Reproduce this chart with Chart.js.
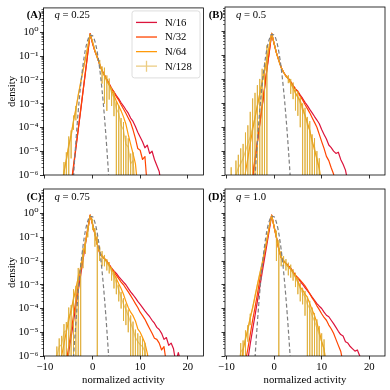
<!DOCTYPE html>
<html>
<head>
<meta charset="utf-8">
<script src="https://cdn.jsdelivr.net/npm/chart.js@4.4.1/dist/chart.umd.min.js"></script>
<style>
  body { margin: 0; background: #fff; }
  #fig { position: relative; width: 390px; height: 390px; }
  #fig canvas { position: absolute; left: 0; top: 0; }
</style>
</head>
<body>
<div id="fig">
  <canvas id="panelA" width="390" height="390"></canvas>
  <canvas id="panelB" width="390" height="390"></canvas>
  <canvas id="panelC" width="390" height="390"></canvas>
  <canvas id="panelD" width="390" height="390"></canvas>
</div>
<script>
// ---- data: [x, density] pairs; N/128 rows carry a third value = error
const seriesLabels = ['N/16', 'N/32', 'N/64', 'N/128'];
const qValues = ['0.25', '0.5', '0.75', '1.0'];
const panelTags = ['(A)', '(B)', '(C)', '(D)'];

const xTicks = [-10, 0, 10, 20];
const xTickLabels = ['\u221210', '0', '10', '20'];
const yTicks = [1e-6, 1e-5, 1e-4, 1e-3, 1e-2, 1e-1, 1];
const yTickLabels = ['10\u207b\u2076', '10\u207b\u2075', '10\u207b\u2074', '10\u207b\u00b3', '10\u207b\u00b2', '10\u207b\u00b9', '10\u2070'];

// dashed reference curve (same in every panel)
const gauss = [[-4.5,1e-8],[-4,8e-7],[-3.5,2.5e-5],[-3,5e-4],[-2.5,6e-3],[-2,0.043],[-1.5,0.19],[-1,0.48],[-0.5,0.77],[0,0.73],[0.5,0.42],[1,0.145],[1.5,0.03],[2,3.7e-3],[2.5,2.8e-4],[3,1.3e-5],[3.5,3.6e-7],[4,3e-9]];

// (A) q = 0.25
const a16 = [[-4.5,3e-7],[-4,2e-6],[-3.5,1.3e-5],[-3,8e-5],[-2.5,5e-4],[-2,3.2e-3],[-1.5,0.02],[-1,0.13],[-0.5,0.9],[0,0.35],[0.5,0.16],[1,0.09],[1.5,0.045],[2,0.025],[2.5,0.016],[3,0.0105],[3.5,7e-3],[4,4.5e-3],[4.5,3.2e-3],[5,2.2e-3],[5.5,1.6e-3],[6,1.1e-3],[6.5,8e-4],[7,5.6e-4],[7.5,4e-4],[8,2.5e-4],[8.5,1.8e-4],[9,1.1e-4],[9.5,6.3e-5],[10,4e-5],[10.5,2.5e-5],[11,1.4e-5],[11.5,1.8e-5],[12,8e-6],[12.5,1e-5],[13,4.5e-6],[13.5,2.5e-6],[14,1.4e-6],[14.5,3e-7]];
const a32 = [[-4.5,4e-7],[-4,2.5e-6],[-3.5,1.5e-5],[-3,9e-5],[-2.5,5.5e-4],[-2,3.5e-3],[-1.5,0.022],[-1,0.14],[-0.5,0.9],[0,0.35],[0.5,0.16],[1,0.09],[1.5,0.045],[2,0.025],[2.5,0.016],[3,0.0105],[3.5,6.8e-3],[4,4.3e-3],[4.5,3e-3],[5,2e-3],[5.5,1.4e-3],[6,9e-4],[6.5,6e-4],[7,4e-4],[7.5,2.5e-4],[8,1.6e-4],[8.5,8e-5],[9,3.5e-5],[9.5,1.3e-5],[10,1.1e-5],[10.5,4.5e-6],[11,6e-6],[11.5,3e-7]];
const a64 = [[-6.5,3e-7],[-6,1.3e-6],[-5.5,4.5e-6],[-5,1.6e-5],[-4.5,5e-5],[-4,1.8e-4],[-3.5,6.3e-4],[-3,2.2e-3],[-2.5,8e-3],[-2,0.025],[-1.5,0.08],[-1,0.25],[-0.5,0.85],[0,0.4],[0.5,0.17],[1,0.09],[1.5,0.045],[2,0.024],[2.5,0.015],[3,9.5e-3],[3.5,6e-3],[4,3.6e-3],[4.5,2.2e-3],[5,1.3e-3],[5.5,8e-4],[6,5e-4],[6.5,2.8e-4],[7,1.4e-4],[7.5,5e-5],[8,2e-5],[8.5,8e-6],[9,3e-6],[9.5,3e-7]];
const a128 = [[-6.5,3e-7],[-6,1.5e-6,2e-6],[-5.5,4e-6,5e-6],[-5,2e-5,2.2e-5],[-4.5,4e-5,3.5e-5],[-4,2e-4,1.2e-4],[-3.5,5e-4,3e-4],[-3,2.5e-3],[-2.5,7e-3],[-2,0.028],[-1.5,0.075],[-1,0.26],[-0.5,0.8],[0,0.42],[0.5,0.18],[1,0.08],[1.5,0.05,0.02],[2,0.022,0.015],[2.5,0.017,0.016],[3,8e-3,7.5e-3],[3.5,6.5e-3,5e-3],[4,2.8e-3,2e-3],[4.5,1.8e-3,1.5e-3],[5,6e-4,6e-4],[5.5,4e-4,4.5e-4],[6,1.2e-4,1.3e-4],[6.5,8e-5,9e-5],[7,2e-5,2.5e-5],[7.5,1.5e-5,2e-5],[8,3e-6,5e-6],[8.5,4e-6,5e-6],[9,3e-7]];

// (B) q = 0.5
const b16 = [[-5,3e-7],[-4.5,7e-7],[-4,4e-6],[-3.5,2.2e-5],[-3,1.3e-4],[-2.5,7e-4],[-2,4e-3],[-1.5,0.025],[-1,0.14],[-0.5,0.85],[0,0.32],[0.5,0.13],[1,0.063],[1.5,0.032],[2,0.02],[2.5,0.014],[3,0.011],[3.5,8e-3],[4,5.6e-3],[4.5,4e-3],[5,3.2e-3],[5.5,2.2e-3],[6,1.6e-3],[6.5,1.1e-3],[7,8e-4],[7.5,5.6e-4],[8,4e-4],[8.5,2.8e-4],[9,2e-4],[9.5,1.4e-4],[10,8e-5],[10.5,5e-5],[11,3.2e-5],[11.5,1.8e-5],[12,1.4e-5],[12.5,1e-5],[13,8e-6],[13.5,9e-6],[14,4.5e-6],[14.5,2.8e-6],[15,1.6e-6],[15.5,5e-7]];
const b32 = [[-5,3e-7],[-4.5,9e-7],[-4,5e-6],[-3.5,2.5e-5],[-3,1.4e-4],[-2.5,8e-4],[-2,4.5e-3],[-1.5,0.028],[-1,0.15],[-0.5,0.85],[0,0.32],[0.5,0.13],[1,0.063],[1.5,0.032],[2,0.02],[2.5,0.014],[3,0.011],[3.5,8e-3],[4,5.5e-3],[4.5,3.9e-3],[5,3e-3],[5.5,2e-3],[6,1.4e-3],[6.5,9e-4],[7,6e-4],[7.5,4e-4],[8,2.5e-4],[8.5,1.6e-4],[9,1e-4],[9.5,5e-5],[10,2.5e-5],[10.5,1.3e-5],[11,6e-6],[11.5,4e-6],[12,2e-6],[12.5,1.1e-6],[13,3e-7]];
const b64 = [[-6.5,3e-7],[-6,1.3e-6],[-5.5,5e-6],[-5,2e-5],[-4.5,8e-5],[-4,2.5e-4],[-3.5,8e-4],[-3,2.5e-3],[-2.5,8e-3],[-2,0.022],[-1.5,0.07],[-1,0.25],[-0.5,0.85],[0,0.33],[0.5,0.13],[1,0.063],[1.5,0.032],[2,0.02],[2.5,0.014],[3,0.0105],[3.5,7e-3],[4,4.5e-3],[4.5,2.8e-3],[5,1.8e-3],[5.5,1.3e-3],[6,6.3e-4],[6.5,3.2e-4],[7,1.6e-4],[7.5,7e-5],[8,2.8e-5],[8.5,1.1e-5],[9,5e-6],[9.5,1.8e-6],[10,3e-7]];
const b128 = [[-9,6e-7,1.5e-6],[-8,1e-6,3e-6],[-7.5,2e-6,5e-6],[-7,3e-6,1e-5],[-6.5,5e-6,1.5e-5],[-6,1e-5,5e-5],[-5.5,2e-5,1e-4],[-5,4e-5,4e-4],[-4.5,1e-4,1.5e-3],[-4,2.5e-4,2.5e-3],[-3.5,8e-4,5e-3],[-3,2.5e-3,8e-3],[-2.5,8e-3,0.02],[-2,0.022,0.03],[-1.5,0.07,0.2],[-1,0.25],[-0.5,0.8],[0,0.33],[0.5,0.13],[1,0.06],[1.5,0.03],[2,0.02],[2.5,0.013],[3,0.011,4e-3],[3.5,6.5e-3,4e-3],[4,4.5e-3,3e-3],[4.5,2.5e-3,2e-3],[5,1.8e-3,1.5e-3],[5.5,1e-3,9e-4],[6,5e-4,5e-4],[6.5,3e-4,3.5e-4],[7,1.2e-4,1.5e-4],[7.5,8e-5,1e-4],[8,2e-5,3e-5],[8.5,1.5e-5,2e-5],[9,4e-6,6e-6],[9.5,2e-6,3e-6],[10,3e-7]];

// (C) q = 0.75
const c16 = [[-5.5,3e-7],[-5,1.4e-6],[-4.5,6e-6],[-4,2.8e-5],[-3.5,1.3e-4],[-3,5.6e-4],[-2.5,2.5e-3],[-2,0.011],[-1.5,0.05],[-1,0.2],[-0.5,0.85],[0,0.35],[0.5,0.14],[1,0.05],[1.5,0.022],[2,0.016],[2.5,0.0125],[3,0.01],[3.5,7e-3],[4,5e-3],[4.5,3.8e-3],[5,3e-3],[5.5,2.2e-3],[6,1.7e-3],[6.5,1.3e-3],[7,1e-3],[7.5,7e-4],[8,5e-4],[8.5,3.8e-4],[9,2.8e-4],[9.5,2e-4],[10,1.5e-4],[10.5,1.1e-4],[11,8e-5],[11.5,6e-5],[12,4.5e-5],[12.5,3.2e-5],[13,2.4e-5],[13.5,1.6e-5],[14,1.3e-5],[14.5,9e-6],[15,5e-6],[15.5,6e-6],[16,2.8e-6],[16.5,3.5e-6],[17,2e-6],[17.5,5e-7],[18,1.4e-6],[18.5,6e-7]];
const c32 = [[-6,3e-7],[-5.5,6e-7],[-5,2.5e-6],[-4.5,1.1e-5],[-4,5e-5],[-3.5,2.2e-4],[-3,1e-3],[-2.5,4e-3],[-2,0.016],[-1.5,0.063],[-1,0.25],[-0.5,0.85],[0,0.35],[0.5,0.14],[1,0.05],[1.5,0.022],[2,0.016],[2.5,0.0125],[3,0.01],[3.5,7e-3],[4,4.8e-3],[4.5,3.5e-3],[5,2.5e-3],[5.5,1.8e-3],[6,1.3e-3],[6.5,1e-3],[7,7e-4],[7.5,5e-4],[8,3.5e-4],[8.5,2.4e-4],[9,1.6e-4],[9.5,1.1e-4],[10,7e-5],[10.5,5e-5],[11,3.5e-5],[11.5,2.2e-5],[12,1.4e-5],[12.5,9e-6],[13,5.6e-6],[13.5,5e-6],[14,3.5e-6],[14.5,1.8e-6],[15,2.5e-6],[15.5,5e-7]];
const c64 = [[-7,3e-7],[-6.5,1e-6],[-6,3.2e-6],[-5.5,1.1e-5],[-5,3.2e-5],[-4.5,9e-5],[-4,2.5e-4],[-3.5,7e-4],[-3,2e-3],[-2.5,5.6e-3],[-2,0.016],[-1.5,0.06],[-1,0.2],[-0.5,0.85],[0,0.35],[0.5,0.14],[1,0.05],[1.5,0.022],[2,0.016],[2.5,0.0125],[3,9.5e-3],[3.5,6.5e-3],[4,4.5e-3],[4.5,3e-3],[5,1.8e-3],[5.5,1.1e-3],[6,7e-4],[6.5,4e-4],[7,2e-4],[7.5,1.1e-4],[8,7e-5],[8.5,5e-5],[9,3e-5],[9.5,1.4e-5],[10,1e-5],[10.5,6e-6],[11,3.5e-6],[11.5,1.3e-6],[12,3e-7]];
const c128 = [[-8,3e-7],[-7.5,1e-6,1.5e-6],[-7,2.5e-6,3e-6],[-6.5,3e-6,4e-6],[-6,1e-5,1.2e-5],[-5.5,1.2e-5,1.5e-5],[-5,5e-5,6e-5],[-4.5,6e-5,8e-5],[-4,3e-4,3.5e-4],[-3.5,4e-4,5e-4],[-3,2.5e-3,2.6e-3],[-2.5,4e-3,4.5e-3],[-2,0.02,0.015],[-1.5,0.05,0.03],[-1,0.2,0.1],[-0.5,0.8],[0,0.4,0.2],[0.5,0.14,0.1],[1,0.05,0.09],[1.5,0.025,0.015],[2,0.016,0.01],[2.5,0.012,6e-3],[3,8e-3,4e-3],[3.5,6e-3,3e-3],[4,3.5e-3,2e-3],[4.5,2.2e-3,1.5e-3],[5,1.2e-3,8e-4],[5.5,6e-4,4e-4],[6,3e-4,2e-4],[6.5,1.5e-4,1.2e-4],[7,9e-5,7e-5],[7.5,5e-5,4e-5],[8,2.5e-5,2.6e-5],[8.5,1.3e-5,1.5e-5],[9,6e-6,7e-6],[9.5,4e-6,5e-6],[10,3e-6,4e-6],[10.5,2.5e-6,3e-6],[11,1.5e-6,2e-6],[11.5,3e-7]];

// (D) q = 1.0
const d16 = [[-6,3e-7],[-5.5,7e-7],[-5,3.2e-6],[-4.5,1.3e-5],[-4,5e-5],[-3.5,2e-4],[-3,8e-4],[-2.5,3.2e-3],[-2,0.0125],[-1.5,0.05],[-1,0.2],[-0.5,0.85],[0,0.28],[0.5,0.1],[1,0.032],[1.5,0.014],[2,0.01],[2.5,8e-3],[3,6.3e-3],[3.5,5e-3],[4,3.5e-3],[4.5,2.5e-3],[5,1.9e-3],[5.5,1.4e-3],[6,1.05e-3],[6.5,7.5e-4],[7,5.6e-4],[7.5,4.2e-4],[8,3e-4],[8.5,2.2e-4],[9,1.6e-4],[9.5,1.25e-4],[10,1e-4],[10.5,7e-5],[11,5.2e-5],[11.5,4.5e-5],[12,3.2e-5],[12.5,2.3e-5],[13,1.6e-5],[13.5,1.1e-5],[14,8e-6],[14.5,7e-6],[15,4e-6],[15.5,3.5e-6],[16,2.5e-6],[16.5,2e-6],[17,1.6e-6],[17.5,1.8e-6],[18,1e-6],[18.5,4e-7]];
const d32 = [[-6.5,3e-7],[-6,6e-7],[-5.5,2e-6],[-5,8e-6],[-4.5,3.2e-5],[-4,1.1e-4],[-3.5,4e-4],[-3,1.6e-3],[-2.5,5.6e-3],[-2,0.02],[-1.5,0.07],[-1,0.25],[-0.5,0.85],[0,0.28],[0.5,0.1],[1,0.032],[1.5,0.014],[2,0.01],[2.5,8e-3],[3,6.3e-3],[3.5,4.8e-3],[4,3.4e-3],[4.5,2.5e-3],[5,2e-3],[5.5,1.55e-3],[6,1.2e-3],[6.5,9e-4],[7,6.3e-4],[7.5,4.2e-4],[8,2.8e-4],[8.5,2e-4],[9,1.3e-4],[9.5,9e-5],[10,6e-5],[10.5,4.2e-5],[11,3.2e-5],[11.5,2e-5],[12,1.4e-5],[12.5,9e-6],[13,5e-6],[13.5,2.8e-6],[14,1.6e-6],[14.5,5e-7]];
const d64 = [[-7,3e-7],[-6.5,1.8e-6],[-6,5e-6],[-5.5,1.4e-5],[-5,4e-5],[-4.5,1.1e-4],[-4,3.2e-4],[-3.5,1e-3],[-3,2.8e-3],[-2.5,8e-3],[-2,0.025],[-1.5,0.08],[-1,0.28],[-0.5,0.85],[0,0.28],[0.5,0.1],[1,0.032],[1.5,0.014],[2,0.01],[2.5,7.5e-3],[3,5.8e-3],[3.5,4.5e-3],[4,3.2e-3],[4.5,2.2e-3],[5,1.4e-3],[5.5,8e-4],[6,6e-4],[6.5,4e-4],[7,3e-4],[7.5,1.6e-4],[8,9e-5],[8.5,5e-5],[9,2.5e-5],[9.5,1.1e-5],[10,4e-6],[10.5,2e-6],[11,3e-7]];
const d128 = [[-7.5,3e-7],[-7,1.5e-6,2e-6],[-6.5,2e-6,2.5e-6],[-6,6e-6,6e-6],[-5.5,1.2e-5,8e-6],[-5,4e-5,2e-5],[-4.5,1e-4],[-4,3.5e-4],[-3.5,1e-3],[-3,3e-3],[-2.5,8e-3],[-2,0.025],[-1.5,0.08],[-1,0.28],[-0.5,0.8],[0,0.3],[0.5,0.1,0.09],[1,0.035,0.04],[1.5,0.016,0.01],[2,0.011,5e-3],[2.5,8e-3,4e-3],[3,5.5e-3,3e-3],[3.5,4.5e-3,2.5e-3],[4,3e-3,1.5e-3],[4.5,2e-3,1.2e-3],[5,1.2e-3,8e-4],[5.5,7e-4,5e-4],[6,4.5e-4,3e-4],[6.5,3e-4,2.5e-4],[7,1.5e-4,1.6e-4],[7.5,1e-4,1.1e-4],[8,5e-5,6e-5],[8.5,3e-5,3.5e-5],[9,1.5e-5,2e-5],[9.5,8e-6,1e-5],[10,4e-6,5e-6],[10.5,2e-6,3e-6],[11,3e-7]];

// ---- styling
const FONT = '"Liberation Serif", "DejaVu Serif", serif';
const FS = 10.7;
const seriesColors = ['#dc143c', '#ff4500', '#ff9a0a', 'rgba(222,170,45,0.6)'];
const X_MIN = -10.3, X_MAX = 23.3, Y_MIN = 1e-6, Y_MAX = 10.8;

const yMinor = [];
for (let e = -6; e <= 0; e++) {
  [2, 3, 4, 5, 6, 7, 8, 9].forEach(m => { if (m * 10 ** e <= Y_MAX) yMinor.push(m * 10 ** e); });
}

const panels = [
  { canvas: 'panelA', area: { left: 43.5, top: 7, right: 203.5, bottom: 175 }, yLabels: true, xLabels: false, legend: true, series: [a16, a32, a64, a128] },
  { canvas: 'panelB', area: { left: 225, top: 7, right: 385, bottom: 175 }, yLabels: false, xLabels: false, legend: false, series: [b16, b32, b64, b128] },
  { canvas: 'panelC', area: { left: 43.5, top: 189, right: 203.5, bottom: 356 }, yLabels: true, xLabels: true, legend: false, series: [c16, c32, c64, c128] },
  { canvas: 'panelD', area: { left: 225, top: 189, right: 385, bottom: 356 }, yLabels: false, xLabels: true, legend: false, series: [d16, d32, d64, d128] }
];

const toXY = rows => rows.map(r => ({ x: r[0], y: r[1] }));

const errorBars = rows => {
  const pts = [];
  rows.forEach(r => {
    if (r[2] == null) return;
    const lo = r[1] - r[2];
    pts.push({ x: r[0], y: r[1] + r[2] });
    pts.push({ x: r[0], y: lo > 0 ? lo : 1e-9 });
    pts.push({ x: r[0], y: null });
  });
  return pts;
};

const framePlugin = {
  id: 'frame',
  afterDraw(chart) {
    const { ctx, chartArea: a } = chart;
    ctx.save();
    ctx.strokeStyle = '#000';
    ctx.lineWidth = 0.8;
    ctx.strokeRect(a.left, a.top, a.right - a.left, a.bottom - a.top);
    ctx.restore();
  }
};

function labelPlugin(tag, q) {
  return {
    id: 'panelLabel',
    afterDraw(chart) {
      const { ctx, chartArea: a } = chart;
      const y = a.top + 10.5;
      ctx.save();
      ctx.fillStyle = '#000';
      ctx.textBaseline = 'alphabetic';
      ctx.textAlign = 'right';
      ctx.font = 'bold ' + FS + 'px ' + FONT;
      ctx.fillText(tag, a.left - 2, y);
      ctx.textAlign = 'left';
      ctx.font = 'italic ' + FS + 'px ' + FONT;
      const x0 = a.left + 11;
      ctx.fillText('q', x0, y);
      const w = ctx.measureText('q').width;
      ctx.font = FS + 'px ' + FONT;
      ctx.fillText(' = ' + q, x0 + w, y);
      ctx.restore();
    }
  };
}

const legendPlugin = {
  id: 'boxLegend',
  afterDraw(chart) {
    const { ctx, chartArea: a } = chart;
    const x1 = a.right - 3.5, x0 = x1 - 68, y0 = a.top + 3, y1 = y0 + 67, r = 2.5;
    ctx.save();
    ctx.beginPath();
    ctx.moveTo(x0 + r, y0);
    ctx.arcTo(x1, y0, x1, y1, r);
    ctx.arcTo(x1, y1, x0, y1, r);
    ctx.arcTo(x0, y1, x0, y0, r);
    ctx.arcTo(x0, y0, x1, y0, r);
    ctx.closePath();
    ctx.fillStyle = 'rgba(255,255,255,0.8)';
    ctx.fill();
    ctx.strokeStyle = '#d6d6d6';
    ctx.lineWidth = 0.8;
    ctx.stroke();
    ctx.font = FS + 'px ' + FONT;
    ctx.textBaseline = 'middle';
    ctx.textAlign = 'left';
    seriesLabels.forEach((lab, i) => {
      const y = y0 + 11.5 + i * 14.6;
      ctx.strokeStyle = seriesColors[i];
      ctx.lineWidth = 1.3;
      ctx.beginPath();
      ctx.moveTo(x0 + 4, y);
      ctx.lineTo(x0 + 25, y);
      if (i === 3) {
        ctx.moveTo(x0 + 14.5, y - 5.5);
        ctx.lineTo(x0 + 14.5, y + 5.5);
      }
      ctx.stroke();
      ctx.fillStyle = '#000';
      ctx.fillText(lab, x0 + 33, y + 0.5);
    });
    ctx.restore();
  }
};

const tickFont = { family: FONT, size: FS };

panels.forEach((p, k) => {
  const a = p.area;
  const yW = p.yLabels ? a.left : 4;
  const xH = p.xLabels ? 390 - a.bottom : 4;

  const datasets = [];
  p.series.forEach((rows, i) => {
    datasets.push({
      label: seriesLabels[i], data: toXY(rows), borderColor: seriesColors[i],
      borderWidth: 1.2, pointRadius: 0, tension: 0, order: 5 - i,
      borderJoinStyle: 'round'
    });
  });
  datasets.push({
    label: 'N/128 error', data: errorBars(p.series[3]), borderColor: seriesColors[3],
    borderWidth: 1, pointRadius: 0, spanGaps: false, order: 2
  });
  datasets.push({
    label: 'gaussian', data: toXY(gauss), borderColor: '#7f7f7f', borderWidth: 1.2,
    borderDash: [4, 2.5], pointRadius: 0, cubicInterpolationMode: 'monotone', order: 0
  });

  const plugins = [framePlugin, labelPlugin(panelTags[k], qValues[k])];
  if (p.legend) plugins.push(legendPlugin);

  new Chart(document.getElementById(p.canvas), {
    type: 'line',
    data: { datasets },
    plugins,
    options: {
      responsive: false,
      animation: false,
      devicePixelRatio: 1,
      events: [],
      layout: {
        autoPadding: false,
        padding: { left: a.left - yW, top: a.top, right: 390 - a.right, bottom: 390 - a.bottom - xH }
      },
      plugins: { legend: { display: false }, tooltip: { enabled: false } },
      scales: {
        x: {
          type: 'linear', position: 'bottom', min: X_MIN, max: X_MAX,
          afterBuildTicks: s => { s.ticks = xTicks.map(v => ({ value: v })); },
          afterFit: s => { s.height = xH; },
          ticks: {
            display: p.xLabels, autoSkip: false, maxRotation: 0, padding: 1,
            color: '#000', font: tickFont,
            callback: v => xTickLabels[xTicks.indexOf(v)]
          },
          grid: { display: true, drawOnChartArea: false, tickLength: 3.5, tickColor: '#000', tickWidth: 0.8 },
          border: { display: false },
          title: { display: p.xLabels, text: 'normalized activity', color: '#000', font: tickFont, padding: { top: 0, bottom: 3.6 } }
        },
        y: {
          type: 'logarithmic', position: 'left', weight: 1, min: Y_MIN, max: Y_MAX,
          afterBuildTicks: s => { s.ticks = yTicks.map(v => ({ value: v })); },
          afterFit: s => { s.width = yW; },
          ticks: {
            display: p.yLabels, autoSkip: false, padding: 1.5,
            color: '#000', font: tickFont,
            callback: v => yTickLabels[yTicks.indexOf(v)]
          },
          grid: { display: true, drawOnChartArea: false, tickLength: 3.5, tickColor: '#000', tickWidth: 0.8 },
          border: { display: false },
          title: { display: p.yLabels, text: 'density', color: '#000', font: tickFont, padding: { top: 5.6, bottom: 0 } }
        },
        yMinor: {
          type: 'logarithmic', position: 'left', weight: 0, min: Y_MIN, max: Y_MAX,
          afterBuildTicks: s => { s.ticks = yMinor.map(v => ({ value: v })); },
          afterFit: s => { s.width = 0; },
          ticks: { display: false },
          grid: { display: true, drawOnChartArea: false, tickLength: 2, tickColor: '#000', tickWidth: 0.6 },
          border: { display: false }
        }
      }
    }
  });
});
</script>
</body>
</html>
